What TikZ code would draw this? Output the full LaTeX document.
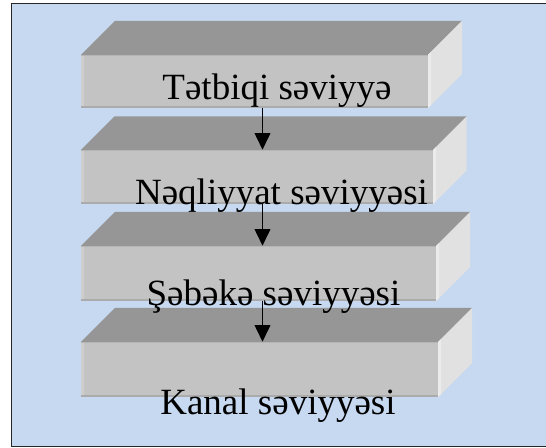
\documentclass[tikz,border=0pt]{standalone}
\usepackage{fontspec}
\setmainfont{Liberation Serif}
\usetikzlibrary{arrows.meta,fit}
\definecolor{bgblue}{HTML}{C6D9F1}
\definecolor{topgray}{HTML}{969696}
\definecolor{frontgray}{HTML}{C3C3C3}
\definecolor{frontlight}{HTML}{CECECE}
\definecolor{frontdark}{HTML}{ABABAB}
\definecolor{sidegray}{HTML}{E1E1E1}
\definecolor{sidelight}{HTML}{EBEBEB}
\definecolor{framecol}{HTML}{262626}
\newcommand\layerbox[6]{%
  % #1 name, #2 left, #3 right, #4 front top, #5 front bottom, #6 depth
  \fill[topgray] (#2,#4) -- (#2+#6,#4-#6) -- (#3+#6,#4-#6) -- (#3,#4) -- cycle;
  \fill[sidegray] (#3,#4) -- (#3+#6,#4-#6) -- (#3+#6,#5-#6) -- (#3,#5) -- cycle;
  \fill[sidelight] (#3,#4) -- (#3+3,#4-3) -- (#3+3,#5-3) -- (#3,#5) -- cycle;
  \fill[frontgray] (#2,#4) rectangle (#3,#5);
  \fill[frontlight] (#2,#4) rectangle (#2+3,#5);
  \fill[frontdark] (#2,#5-2) rectangle (#3,#5);
  \fill[frontdark!60!frontgray] (#2,#4) rectangle (#3,#4+1);
  \node[fit={(#2,#4) (#3,#5)}, inner sep=0pt] (#1) {};
}
\tikzset{
  label/.style={anchor=base, inner sep=0pt, font=\fontsize{27.75}{33}\selectfont},
  arr/.style={-{Triangle[length=12.5pt,width=11.8pt]}, line width=1.1pt, black},
}
\begin{document}
\begin{tikzpicture}[x=0.75pt,y=-0.75pt]
\useasboundingbox (0,0) rectangle (546,448);
\fill[white] (0,0) rectangle (546,448);
\fill[bgblue] (11.5,3.5) rectangle (546,446.5);
\draw[framecol, line width=1.1pt] (560,3.5) -- (11.5,3.5) -- (11.5,446.5) -- (560,446.5);

\layerbox{f1}{81}{428}{55}{108}{34}
\layerbox{f2}{81}{433}{150}{204}{33.5}
\layerbox{f3}{81}{436}{246}{301}{34}
\layerbox{f4}{81}{438}{342}{397}{34}

\node[label] (t1) at (277,100) {Tətbiqi səviyyə};
\node[label] (t2) at (281.5,205) {Nəqliyyat səviyyəsi};
\node[label] (t3) at (273.5,306) {Şəbəkə səviyyəsi};
\node[label] (t4) at (278,415) {Kanal səviyyəsi};

\coordinate (ax) at (262.5,0);
\draw[arr] (f1.south -| ax) -- (f2.north -| ax);
\draw[arr] (f2.south -| ax) -- (f3.north -| ax);
\draw[arr] (f3.south -| ax) -- (f4.north -| ax);
\end{tikzpicture}
\end{document}
